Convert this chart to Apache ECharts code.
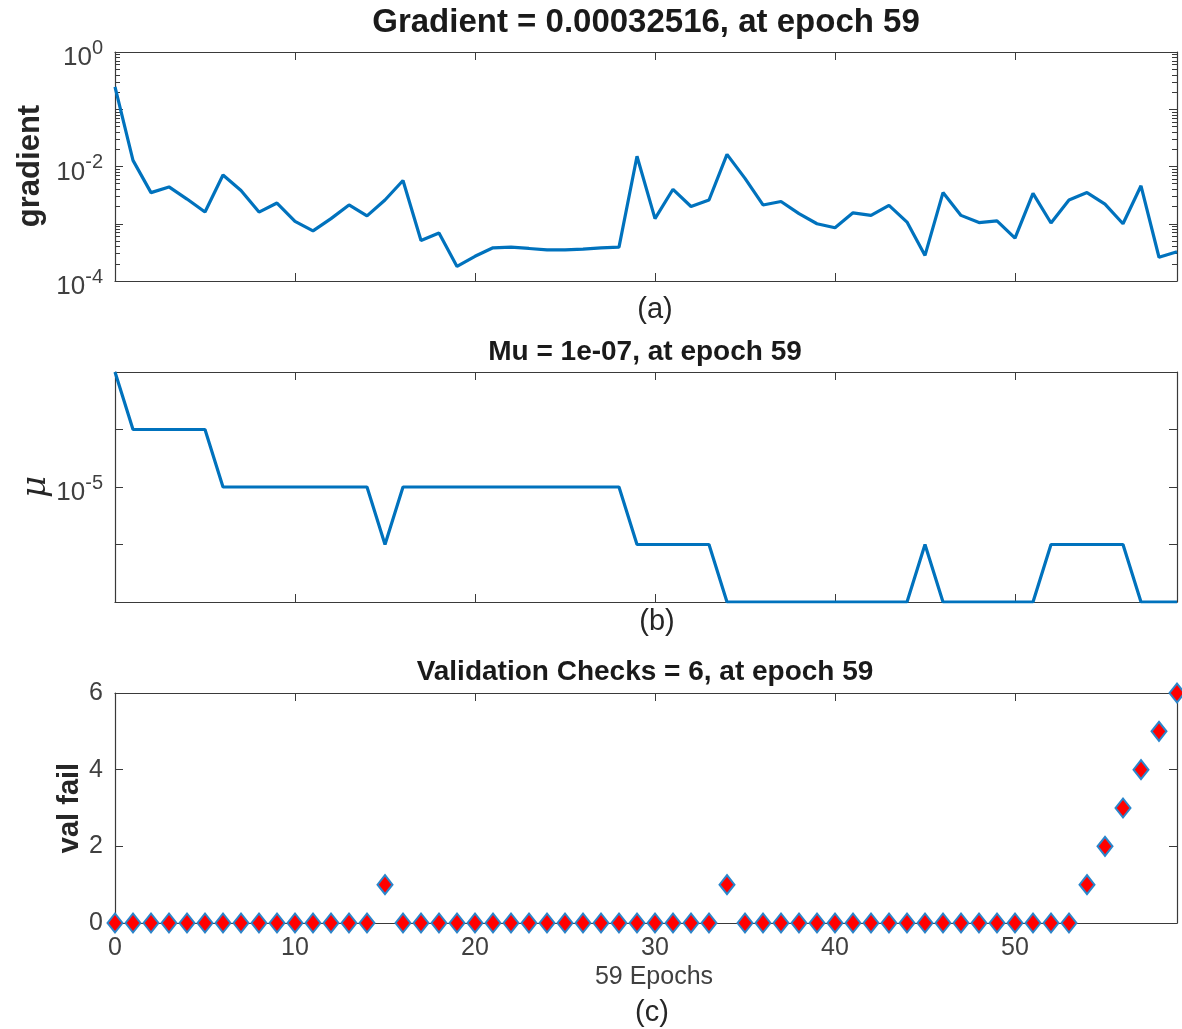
<!DOCTYPE html>
<html>
<head>
<meta charset="utf-8">
<script src="https://cdn.jsdelivr.net/npm/echarts@6/dist/echarts.min.js"></script>
<style>
  html, body { margin: 0; padding: 0; background: #ffffff; }
  #chart { width: 1182px; height: 1029px; }
</style>
</head>
<body>
<div id="chart"></div>
<script>
// Training record, one entry per epoch (0..59)
const epochs = Array.from({ length: 60 }, (_, i) => i);

const gradient = [
  0.245, 0.0128, 0.0035, 0.0044, 0.0027, 0.0016, 0.0071, 0.0038, 0.0016, 0.0023,
  0.0011, 0.00075, 0.00123, 0.00213, 0.00137, 0.0026, 0.0057, 0.00051, 0.00069, 0.00018,
  0.00027, 0.00038, 0.00039, 0.00037, 0.00035, 0.00035, 0.00036, 0.00038, 0.00039, 0.0151,
  0.00123, 0.0040, 0.0020, 0.0026, 0.0163, 0.0062, 0.00213, 0.00245, 0.0015, 0.0010,
  0.00085, 0.00155, 0.0014, 0.0021, 0.00107, 0.00028, 0.0035, 0.0014, 0.00105, 0.00112,
  0.00056, 0.0034, 0.00103, 0.0026, 0.0035, 0.0022, 0.0010, 0.0046, 0.00026, 0.00032516
];

const mu = [
  1e-3, 1e-4, 1e-4, 1e-4, 1e-4, 1e-4, 1e-5, 1e-5, 1e-5, 1e-5,
  1e-5, 1e-5, 1e-5, 1e-5, 1e-5, 1e-6, 1e-5, 1e-5, 1e-5, 1e-5,
  1e-5, 1e-5, 1e-5, 1e-5, 1e-5, 1e-5, 1e-5, 1e-5, 1e-5, 1e-6,
  1e-6, 1e-6, 1e-6, 1e-6, 1e-7, 1e-7, 1e-7, 1e-7, 1e-7, 1e-7,
  1e-7, 1e-7, 1e-7, 1e-7, 1e-7, 1e-6, 1e-7, 1e-7, 1e-7, 1e-7,
  1e-7, 1e-7, 1e-6, 1e-6, 1e-6, 1e-6, 1e-6, 1e-7, 1e-7, 1e-7
];

const valFail = [
  0, 0, 0, 0, 0, 0, 0, 0, 0, 0,
  0, 0, 0, 0, 0, 1, 0, 0, 0, 0,
  0, 0, 0, 0, 0, 0, 0, 0, 0, 0,
  0, 0, 0, 0, 1, 0, 0, 0, 0, 0,
  0, 0, 0, 0, 0, 0, 0, 0, 0, 0,
  0, 0, 0, 0, 1, 2, 3, 4, 5, 6
];

// Tick positions
const epochTicks = [0, 10, 20, 30, 40, 50];
const gradMajor = [1e-4, 1e-3, 1e-2, 1e-1, 1];
const gradLabels = [1e-4, 1e-2, 1];
const muMajor = [1e-7, 1e-6, 1e-5, 1e-4, 1e-3];
const muLabels = [1e-5];
const valTicks = [0, 2, 4, 6];

const titles = [
  'Gradient = 0.00032516, at epoch 59',
  'Mu = 1e-07, at epoch 59',
  'Validation Checks = 6, at epoch 59'
];

// minor ticks 2..9 within each decade of the gradient axis
const gradMinor = [];
for (let d = -4; d < 0; d++) {
  for (let m = 2; m <= 9; m++) gradMinor.push(m * Math.pow(10, d));
}

const FONT = '"Liberation Sans", Arial, Helvetica, sans-serif';
const AXIS_COLOR = '#3a3a3a';
const LABEL_COLOR = '#404040';
const LINE_BLUE = '#0072BD';
const MAJOR_LEN = 8;
const MINOR_LEN = 5;

const grids = [
  { left: 115, right: 5, top: 52, height: 229 },
  { left: 115, right: 5, top: 372, height: 230 },
  { left: 115, right: 5, top: 693, height: 230 }
];

function expLabel(v) {
  const e = Math.round(Math.log10(v));
  return '{b|10}{e|' + e + '}';
}
const expRich = {
  b: { fontSize: 26, fontFamily: FONT, color: LABEL_COLOR, padding: [12, 0, 0, 0] },
  e: { fontSize: 20, fontFamily: FONT, color: LABEL_COLOR, padding: [0, 0, 8, 0] }
};
const numLabel = { fontSize: 25, fontFamily: FONT, color: LABEL_COLOR };

const epochScale = { type: 'value', min: 0, max: 59 };
const gradScale = { type: 'log', logBase: 10, min: 1e-4, max: 1 };
const muScale = { type: 'log', logBase: 10, min: 1e-7, max: 1e-3 };
const valScale = { type: 'value', min: 0, max: 6, interval: 2 };

// Box edge: axis line, optional labels, no ticks
function edgeAxis(gridIndex, scale, position, label) {
  return Object.assign({
    gridIndex, position, offset: 0,
    splitLine: { show: false },
    axisLine: { show: true, onZero: false, lineStyle: { color: AXIS_COLOR, width: 1.2 } },
    axisTick: { show: false },
    axisLabel: label ? Object.assign({ show: true }, label) : { show: false }
  }, scale);
}
// Tick marks: the axis is shifted into the plot by the tick length, so the
// outward-pointing ticks end exactly on the box edge.
function tickAxis(gridIndex, scale, position, values, len) {
  return Object.assign({
    gridIndex, position, offset: -len,
    splitLine: { show: false },
    axisLine: { show: false, onZero: false },
    axisTick: { show: true, inside: false, length: len, customValues: values, lineStyle: { color: AXIS_COLOR, width: 1 } },
    axisLabel: { show: false }
  }, scale);
}

const xAxesAll = [];
const yAxesAll = [];
const xIdx = [];
const yIdx = [];

// panel (a): gradient
xIdx.push(xAxesAll.length);
xAxesAll.push(
  edgeAxis(0, epochScale, 'bottom'),
  edgeAxis(0, epochScale, 'top'),
  tickAxis(0, epochScale, 'bottom', epochTicks, MAJOR_LEN),
  tickAxis(0, epochScale, 'top', epochTicks, MAJOR_LEN)
);
yIdx.push(yAxesAll.length);
yAxesAll.push(
  edgeAxis(0, gradScale, 'left', { customValues: gradLabels, formatter: expLabel, rich: expRich, margin: 12 }),
  edgeAxis(0, gradScale, 'right'),
  tickAxis(0, gradScale, 'left', gradMajor, MAJOR_LEN),
  tickAxis(0, gradScale, 'left', gradMinor, MINOR_LEN),
  tickAxis(0, gradScale, 'right', gradMajor, MAJOR_LEN),
  tickAxis(0, gradScale, 'right', gradMinor, MINOR_LEN)
);

// panel (b): mu
xIdx.push(xAxesAll.length);
xAxesAll.push(
  edgeAxis(1, epochScale, 'bottom'),
  edgeAxis(1, epochScale, 'top'),
  tickAxis(1, epochScale, 'bottom', epochTicks, MAJOR_LEN),
  tickAxis(1, epochScale, 'top', epochTicks, MAJOR_LEN)
);
yIdx.push(yAxesAll.length);
yAxesAll.push(
  edgeAxis(1, muScale, 'left', { customValues: muLabels, formatter: expLabel, rich: expRich, margin: 12 }),
  edgeAxis(1, muScale, 'right'),
  tickAxis(1, muScale, 'left', muMajor, MAJOR_LEN),
  tickAxis(1, muScale, 'right', muMajor, MAJOR_LEN)
);

// panel (c): validation failures
xIdx.push(xAxesAll.length);
xAxesAll.push(
  edgeAxis(2, epochScale, 'bottom', Object.assign({ customValues: epochTicks, margin: 13 }, numLabel)),
  edgeAxis(2, epochScale, 'top'),
  tickAxis(2, epochScale, 'bottom', epochTicks, MAJOR_LEN),
  tickAxis(2, epochScale, 'top', epochTicks, MAJOR_LEN)
);
yIdx.push(yAxesAll.length);
yAxesAll.push(
  edgeAxis(2, valScale, 'left', Object.assign({ customValues: valTicks, margin: 12 }, numLabel)),
  edgeAxis(2, valScale, 'right'),
  tickAxis(2, valScale, 'left', valTicks, MAJOR_LEN),
  tickAxis(2, valScale, 'right', valTicks, MAJOR_LEN)
);

function textEl(text, x, y, size, weight, extra) {
  const el = {
    type: 'text', x, y, z: 100,
    style: Object.assign({
      text, fill: '#1a1a1a', font: weight + ' ' + size + 'px ' + FONT,
      align: 'center', verticalAlign: 'middle'
    }, (extra && extra.style) || {})
  };
  if (extra && extra.rotation !== undefined) el.rotation = extra.rotation;
  return el;
}

const option = {
  animation: false,
  backgroundColor: '#ffffff',
  grid: grids,
  xAxis: xAxesAll,
  yAxis: yAxesAll,
  series: [
    {
      type: 'line', xAxisIndex: xIdx[0], yAxisIndex: yIdx[0],
      data: epochs.map((e, i) => [e, gradient[i]]),
      showSymbol: false, symbol: 'none',
      lineStyle: { color: LINE_BLUE, width: 3.2 }, z: 5
    },
    {
      type: 'line', xAxisIndex: xIdx[1], yAxisIndex: yIdx[1],
      data: epochs.map((e, i) => [e, mu[i]]),
      showSymbol: false, symbol: 'none',
      lineStyle: { color: LINE_BLUE, width: 3.2 }, z: 5
    },
    {
      type: 'scatter', xAxisIndex: xIdx[2], yAxisIndex: yIdx[2],
      data: epochs.map((e, i) => [e, valFail[i]]),
      symbol: 'diamond', symbolSize: [15, 19],
      itemStyle: { color: '#ff0000', borderColor: '#2a86cc', borderWidth: 2, opacity: 1 },
      clip: false, z: 10
    }
  ],
  graphic: [
    textEl(titles[0], 646, 23, 33, 'bold'),
    textEl(titles[1], 645, 352, 28, 'bold'),
    textEl(titles[2], 645, 672, 28, 'bold'),
    textEl('(a)', 655, 310, 29, 'normal', { style: { fill: '#262626' } }),
    textEl('(b)', 657, 622, 29, 'normal', { style: { fill: '#262626' } }),
    textEl('59 Epochs', 654, 977, 25, 'normal', { style: { fill: '#404040' } }),
    textEl('(c)', 652, 1013, 29, 'normal', { style: { fill: '#262626' } }),
    textEl('gradient', 30, 166, 31, 'bold', { rotation: Math.PI / 2, style: { fill: '#262626' } }),
    textEl('\u03bc', 36, 487, 34, 'italic', { rotation: Math.PI / 2, style: { fill: '#262626', font: 'italic 34px "DejaVu Serif", serif' } }),
    textEl('val fail', 70, 808, 29, 'bold', { rotation: Math.PI / 2, style: { fill: '#262626' } })
  ]
};

const chart = echarts.init(document.getElementById('chart'), null, { renderer: 'canvas' });
chart.setOption(option);
</script>
</body>
</html>
